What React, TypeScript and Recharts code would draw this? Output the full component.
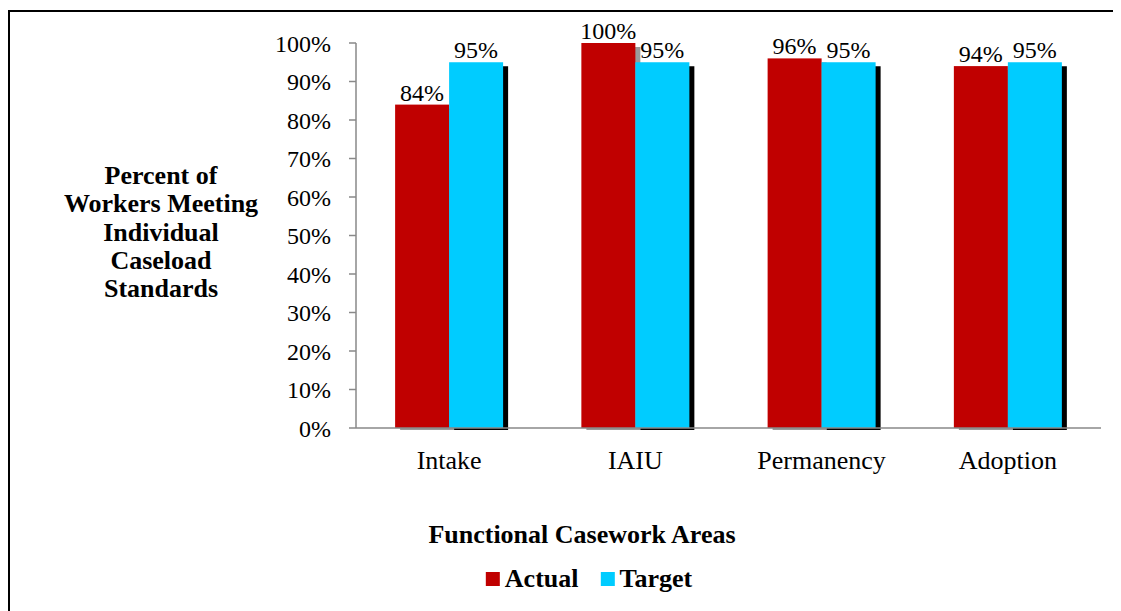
import React from "react";
import { BarChart, Bar, XAxis, YAxis, LabelList } from "recharts";

const categories = ["Intake", "IAIU", "Permanency", "Adoption"];
const actualValues = [84, 100, 96, 94];
const targetValues = [95, 95, 95, 95];
const yTicks = [0, 10, 20, 30, 40, 50, 60, 70, 80, 90, 100];
const boundaryTicks = [0, 1, 2, 3, 4];
const seriesNames = ["Actual", "Target"];
const seriesColors = ["#C00000", "#00CCFF"];
const yTitleLines = ["Percent of", "Workers Meeting", "Individual", "Caseload", "Standards"];
const xTitle = "Functional Casework Areas";

const data = categories.map((c, i) => ({ name: c, actual: actualValues[i], target: targetValues[i] }));

const FONT = "Liberation Serif, Times New Roman, serif";
const AXIS = "#898989";

const makeShadowBar = (shadow: string) => (props: any) => {
  const { x, y, width, height, fill } = props;
  if (!height || height <= 0) return <g />;
  return (
    <g>
      <rect x={x + 5} y={y + 4} width={width} height={Math.max(height - 2, 0)} fill={shadow} />
      <rect x={x} y={y} width={width} height={height} fill={fill} />
    </g>
  );
};

const pct = (v: any) => `${v}%`;

const CategoryTick = (props: any) => {
  const { x, y, payload } = props;
  return (
    <text x={x} y={y} dy={18} textAnchor="middle" fill="#000" fontSize={26} fontFamily={FONT} style={{ fontFamily: FONT }}>
      {payload.value}
    </text>
  );
};

const ValueTick = (props: any) => {
  const { x, y, payload } = props;
  return (
    <text x={x} y={y} dy={8.5} textAnchor="end" fill="#000" fontSize={24} fontFamily={FONT} style={{ fontFamily: FONT }}>
      {pct(payload.value)}
    </text>
  );
};

const makeBarLabel = (props: any) => {
  const { x, y, width, value } = props;
  return (
    <text x={x + width / 2} y={y - 4} textAnchor="middle" fill="#000" fontSize={24} fontFamily={FONT} style={{ fontFamily: FONT }}>
      {pct(value)}
    </text>
  );
};

export default function App() {
  return (
    <div style={{ position: "relative", width: 1113, height: 603, overflow: "hidden", fontFamily: FONT }}>
      <div
        style={{
          position: "absolute",
          left: 0,
          top: 2,
          width: 1200,
          height: 700,
          border: "2px solid #000",
          boxSizing: "border-box",
        }}
      />
      <div
        style={{
          position: "absolute",
          left: 3,
          top: 154,
          width: 300,
          textAlign: "center",
          fontSize: 26,
          fontWeight: "bold",
          lineHeight: "28.3px",
          color: "#000",
        }}
      >
        {yTitleLines.map((l) => (
          <div key={l}>{l}</div>
        ))}
      </div>
      <div style={{ position: "absolute", left: 0, top: 0 }}>
        <BarChart
          width={1113}
          height={603}
          data={data}
          margin={{ top: 35, right: 20, bottom: 181, left: 288 }}
          barCategoryGap="21%"
          barGap={0}
          style={{ fontFamily: FONT }}
        >
          <YAxis
            width={60}
            domain={[0, 100]}
            ticks={yTicks}
            interval={0}
            axisLine={{ stroke: AXIS, strokeWidth: 1.5 }}
            tickLine={{ stroke: AXIS, strokeWidth: 1.5 }}
            tickSize={7}
            tickMargin={18}
            tick={ValueTick}
          />
          <XAxis
            dataKey="name"
            height={1}
            axisLine={{ stroke: AXIS, strokeWidth: 1.5 }}
            tickLine={false}
            tickSize={0}
            tickMargin={23}
            interval={0}
            tick={CategoryTick}
          />
          <XAxis
            xAxisId="grid"
            type="number"
            domain={[0, 4]}
            ticks={boundaryTicks}
            interval={0}
            height={1}
            axisLine={false}
            tick={false}
            tickLine={{ stroke: AXIS, strokeWidth: 1.5 }}
            tickSize={7}
          />
          <Bar dataKey="actual" name={seriesNames[0]} fill={seriesColors[0]} isAnimationActive={false} shape={makeShadowBar("#9a9a9a")}>
            <LabelList dataKey="actual" content={makeBarLabel} />
          </Bar>
          <Bar dataKey="target" name={seriesNames[1]} fill={seriesColors[1]} isAnimationActive={false} shape={makeShadowBar("#000")}>
            <LabelList dataKey="target" content={makeBarLabel} />
          </Bar>
        </BarChart>
      </div>
      <div
        style={{
          position: "absolute",
          left: 574,
          top: 512,
          transform: "translateX(-50%)",
          whiteSpace: "nowrap",
          fontSize: 26,
          fontWeight: "bold",
          lineHeight: "30px",
          color: "#000",
        }}
      >
        {xTitle}
      </div>
      <div
        style={{
          position: "absolute",
          left: 581,
          top: 556,
          transform: "translateX(-50%)",
          display: "flex",
          alignItems: "center",
          whiteSpace: "nowrap",
          fontSize: 26,
          fontWeight: "bold",
          lineHeight: "30px",
          color: "#000",
        }}
      >
        {seriesNames.map((n, i) => (
          <div key={n} style={{ display: "flex", alignItems: "center", marginLeft: i ? 22 : 0 }}>
            <span style={{ display: "inline-block", width: 14, height: 14, background: seriesColors[i], marginRight: 5 }} />
            {n}
          </div>
        ))}
      </div>
    </div>
  );
}
